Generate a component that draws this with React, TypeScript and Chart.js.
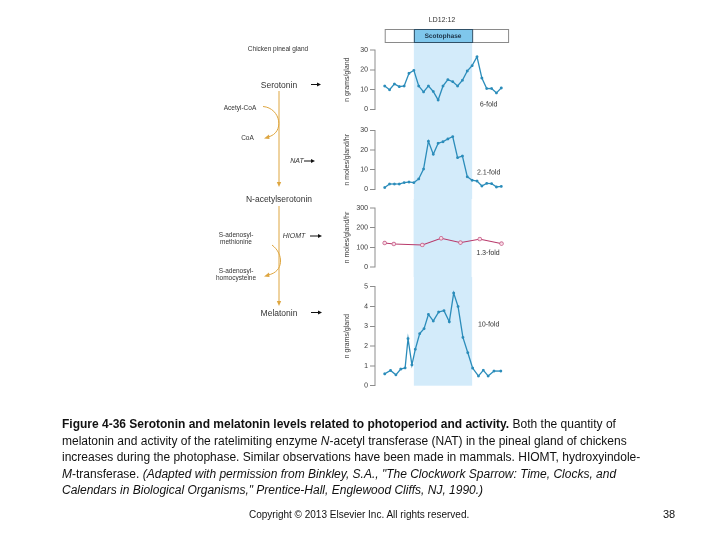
import { useEffect, useRef } from "react";
import { Chart, registerables } from "chart.js";
Chart.register(...registerables);

// ---------- data ----------
const HOURS = [0, 1, 2, 3, 4, 5, 6, 7, 8, 9, 10, 11, 12, 13, 14, 15, 16, 17, 18, 19, 20, 21, 22, 23, 24];
const SEROTONIN = [11.8, 9.9, 12.8, 11.5, 11.8, 18.2, 19.7, 11.8, 8.8, 11.8, 9.0, 4.7, 11.8, 15.0, 14.0, 11.8, 14.7, 19.4, 22.1, 26.6, 15.8, 10.5, 10.5, 8.3, 10.8];
const NAT_ACTIVITY = [0.9, 2.7, 2.7, 2.7, 3.4, 3.7, 3.4, 5.3, 10.3, 24.4, 17.8, 23.4, 24.2, 25.6, 26.8, 16.1, 16.9, 6.4, 4.6, 4.2, 1.7, 3.0, 2.9, 1.2, 1.5];
const HIOMT_HOURS = [0, 1.9, 7.8, 11.7, 15.7, 19.7, 24.2];
const HIOMT_ACTIVITY = [122, 117, 112, 146, 124, 142, 119];
const MELATONIN_HOURS = [0, 1.2, 2.3, 3.3, 4.2, 4.8, 5.6, 6.3, 7.2, 8.1, 9, 10, 11.1, 12.2, 13.3, 14.2, 15.1, 16.1, 17.1, 18.1, 19.3, 20.3, 21.3, 22.5, 23.9];
const MELATONIN = [0.6, 0.77, 0.55, 0.84, 0.9, 2.38, 1.05, 1.84, 2.63, 2.88, 3.6, 3.27, 3.72, 3.79, 3.23, 4.68, 4.0, 2.44, 1.67, 0.89, 0.49, 0.78, 0.49, 0.74, 0.74];

const Y_TITLES = ["n grams/gland", "n moles/gland/hr", "n moles/gland/hr", "n grams/gland"];
const Y_MAX = [30, 30, 300, 5];
const Y_STEP = [10, 10, 100, 1];
const FOLD_LABELS = ["6-fold", "2.1-fold", "1.3-fold", "10-fold"];
const FOLD_Y = [2.3, 8.6, 70, 3.1];
const FOLD_X = 21.4;
const DARK_START = 6;
const DARK_END = 18;
const LD_BAR_START = 0;
const LD_BAR_END = 25.4;
const LD_LABEL = "LD12:12";
const DARK_LABEL = "Scotophase";

const FONT = "'Liberation Sans', Arial, Helvetica, sans-serif";
const BLUE = "#2a8cba";
const SHADE = "#d3ebfa";

type PanelProps = {
  idx: number;
  top: number;
  height: number;
  padTop: number;
  padBottom: number;
  xs: number[];
  ys: number[];
  hollow?: boolean;
};

const LEFT = 343;
const AXIS_W = 32;
const WIDTH = 172;

function Panel({ idx, top, height, padTop, padBottom, xs, ys, hollow }: PanelProps) {
  const ref = useRef<HTMLCanvasElement>(null);
  useEffect(() => {
    if (!ref.current) return;
    const first = idx === 0;
    const last = idx === 3;
    const barTop = 19;
    const barBottom = 32;
    const deco = {
      id: "deco" + idx,
      beforeDraw(chart: any) {
        const { ctx } = chart;
        const xsc = chart.scales.x;
        const ysc = chart.scales.y;
        const x0 = xsc.getPixelForValue(DARK_START);
        const x1 = xsc.getPixelForValue(DARK_END);
        const t = first ? barBottom : 0;
        const b = last ? ysc.getPixelForValue(0) : chart.height;
        ctx.save();
        ctx.fillStyle = SHADE;
        ctx.fillRect(x0, t, x1 - x0, b - t);
        ctx.restore();
      },
      afterDraw(chart: any) {
        const { ctx } = chart;
        const xsc = chart.scales.x;
        const ysc = chart.scales.y;
        ctx.save();
        ctx.fillStyle = "#333";
        ctx.font = `7px ${FONT}`;
        ctx.textAlign = "center";
        ctx.textBaseline = "middle";
        ctx.fillText(FOLD_LABELS[idx], xsc.getPixelForValue(FOLD_X), ysc.getPixelForValue(FOLD_Y[idx]));
        if (first) {
          const bx0 = xsc.getPixelForValue(LD_BAR_START);
          const bx1 = xsc.getPixelForValue(LD_BAR_END);
          const dx0 = xsc.getPixelForValue(DARK_START);
          const dx1 = xsc.getPixelForValue(DARK_END);
          ctx.fillStyle = "#ffffff";
          ctx.fillRect(bx0, barTop, bx1 - bx0, barBottom - barTop);
          ctx.strokeStyle = "#8a8a8a";
          ctx.lineWidth = 1;
          ctx.strokeRect(bx0 + 0.5, barTop + 0.5, bx1 - bx0, barBottom - barTop);
          ctx.fillStyle = "#7fc7ec";
          ctx.fillRect(dx0, barTop, dx1 - dx0, barBottom - barTop);
          ctx.strokeStyle = "#2f4f66";
          ctx.strokeRect(dx0 + 0.5, barTop + 0.5, dx1 - dx0, barBottom - barTop);
          ctx.fillStyle = "#1d3347";
          ctx.font = `bold 6.5px ${FONT}`;
          ctx.fillText(DARK_LABEL, (dx0 + dx1) / 2, (barTop + barBottom) / 2 + 0.5);
          ctx.fillStyle = "#333";
          ctx.font = `7px ${FONT}`;
          ctx.fillText(LD_LABEL, (dx0 + dx1) / 2 - 1, 10);
        }
        ctx.restore();
      },
    };
    const chart = new Chart(ref.current, {
      type: "line",
      data: {
        datasets: [
          {
            data: xs.map((x, i) => ({ x, y: ys[i] })),
            borderColor: hollow ? "#b8396a" : BLUE,
            borderWidth: hollow ? 1 : 1.3,
            pointRadius: hollow ? 1.8 : 1.4,
            pointBackgroundColor: hollow ? "#f7dbe6" : BLUE,
            pointBorderColor: hollow ? "#c8608a" : BLUE,
            pointBorderWidth: hollow ? 0.8 : 0,
            tension: 0,
            fill: false,
          },
        ],
      },
      options: {
        animation: false,
        responsive: false,
        maintainAspectRatio: false,
        devicePixelRatio: 2,
        layout: { padding: { top: padTop, bottom: padBottom, left: 0, right: 0 } },
        plugins: { legend: { display: false }, tooltip: { enabled: false } },
        scales: {
          x: { type: "linear", min: -2, max: 26, display: false },
          y: {
            min: 0,
            max: Y_MAX[idx],
            ticks: { stepSize: Y_STEP[idx], font: { size: 7, family: FONT }, color: "#3a3a3a", padding: 2 },
            grid: { drawOnChartArea: false, drawTicks: true, tickLength: 5, color: "#8c8c8c", lineWidth: 1 },
            border: { color: "#8c8c8c", width: 1 },
            title: { display: true, text: Y_TITLES[idx], font: { size: 7, family: FONT }, color: "#3a3a3a", padding: 0 },
            afterFit(axis: any) {
              axis.width = AXIS_W;
            },
          },
        },
      },
      plugins: [deco],
    } as any);
    return () => chart.destroy();
  }, []);
  return (
    <canvas
      ref={ref}
      width={WIDTH}
      height={height}
      style={{ position: "absolute", left: LEFT, top, width: WIDTH, height }}
    />
  );
}

function T({ x, y, size, children, italic, bold, color, align }: any) {
  return (
    <div
      style={{
        position: "absolute",
        left: x,
        top: y,
        transform: align === "left" ? "translate(0,-50%)" : "translate(-50%,-50%)",
        whiteSpace: "nowrap",
        fontFamily: FONT,
        fontSize: size,
        lineHeight: 1.05,
        fontStyle: italic ? "italic" : "normal",
        fontWeight: bold ? "bold" : "normal",
        color: color || "#333",
        textAlign: "center",
      }}
    >
      {children}
    </div>
  );
}

function Arrow({ x1, x2, y }: { x1: number; x2: number; y: number }) {
  return (
    <g>
      <line x1={x1} y1={y} x2={x2 - 3} y2={y} stroke="#111" strokeWidth={1} />
      <polygon points={`${x2},${y} ${x2 - 4},${y - 2} ${x2 - 4},${y + 2}`} fill="#111" />
    </g>
  );
}

export default function App() {
  const gold = "#dea640";
  return (
    <div style={{ position: "absolute", left: 0, top: 0, width: 720, height: 540, background: "#fff", overflow: "hidden" }}>
      <Panel idx={0} top={10} height={110} padTop={40} padBottom={10.7} xs={HOURS} ys={SEROTONIN} />
      <Panel idx={1} top={120} height={79} padTop={10.3} padBottom={9.7} xs={HOURS} ys={NAT_ACTIVITY} />
      <Panel idx={2} top={199} height={78} padTop={9} padBottom={10} xs={HIOMT_HOURS} ys={HIOMT_ACTIVITY} hollow />
      <Panel idx={3} top={277} height={118} padTop={9.7} padBottom={9.3} xs={MELATONIN_HOURS} ys={MELATONIN} />

      <svg width={720} height={540} style={{ position: "absolute", left: 0, top: 0, pointerEvents: "none" }}>
        <line x1={279} y1={91} x2={279} y2={183} stroke={gold} strokeWidth={1} />
        <polygon points="279,187 276.8,182 281.2,182" fill={gold} />
        <line x1={279} y1={206} x2={279} y2={302} stroke={gold} strokeWidth={1} />
        <polygon points="279,306 276.8,301 281.2,301" fill={gold} />
        <path d="M 263 106.5 C 281 108, 285 133, 268 137" fill="none" stroke={gold} strokeWidth={1} />
        <polygon points="264,138.5 269,134.5 269.5,139" fill={gold} />
        <path d="M 272 245 C 284 254, 284 272, 268 275" fill="none" stroke={gold} strokeWidth={1} />
        <polygon points="264,276.5 269,272.5 269.5,277" fill={gold} />
        <Arrow x1={311} x2={321} y={84.5} />
        <Arrow x1={304} x2={315} y={161} />
        <Arrow x1={310} x2={322} y={236} />
        <Arrow x1={311} x2={322} y={312.5} />
      </svg>

      <T x={278} y={49} size={6.5}>Chicken pineal gland</T>
      <T x={279} y={84.5} size={8.5}>Serotonin</T>
      <T x={240} y={108} size={6.5}>Acetyl-CoA</T>
      <T x={247.5} y={138} size={6.5}>CoA</T>
      <T x={297} y={161} size={7} italic>NAT</T>
      <T x={279} y={199} size={8.5}>N-acetylserotonin</T>
      <T x={236} y={239} size={6.5}>S-adenosyl-<br />methionine</T>
      <T x={294} y={236} size={7} italic>HIOMT</T>
      <T x={236} y={275} size={6.5}>S-adenosyl-<br />homocysteine</T>
      <T x={279} y={313} size={8.5}>Melatonin</T>

      <div
        style={{
          position: "absolute",
          left: 62,
          top: 416,
          fontFamily: FONT,
          fontSize: 12,
          lineHeight: "16.5px",
          color: "#111",
          whiteSpace: "nowrap",
        }}
      >
        <div>
          <b>Figure 4-36 Serotonin and melatonin levels related to photoperiod and activity.</b> Both the quantity of
        </div>
        <div>
          melatonin and activity of the ratelimiting enzyme <i>N</i>-acetyl transferase (NAT) in the pineal gland of chickens
        </div>
        <div>increases during the photophase. Similar observations have been made in mammals. HIOMT, hydroxyindole-</div>
        <div>
          <i>M</i>-transferase. <i>(Adapted with permission from Binkley, S.A., "The Clockwork Sparrow: Time, Clocks, and</i>
        </div>
        <div>
          <i>Calendars in Biological Organisms," Prentice-Hall, Englewood Cliffs, NJ, 1990.)</i>
        </div>
      </div>

      <T x={249} y={515} size={10} align="left" color="#111">Copyright © 2013 Elsevier Inc. All rights reserved.</T>
      <T x={663} y={515} size={11} align="left" color="#111">38</T>
    </div>
  );
}
